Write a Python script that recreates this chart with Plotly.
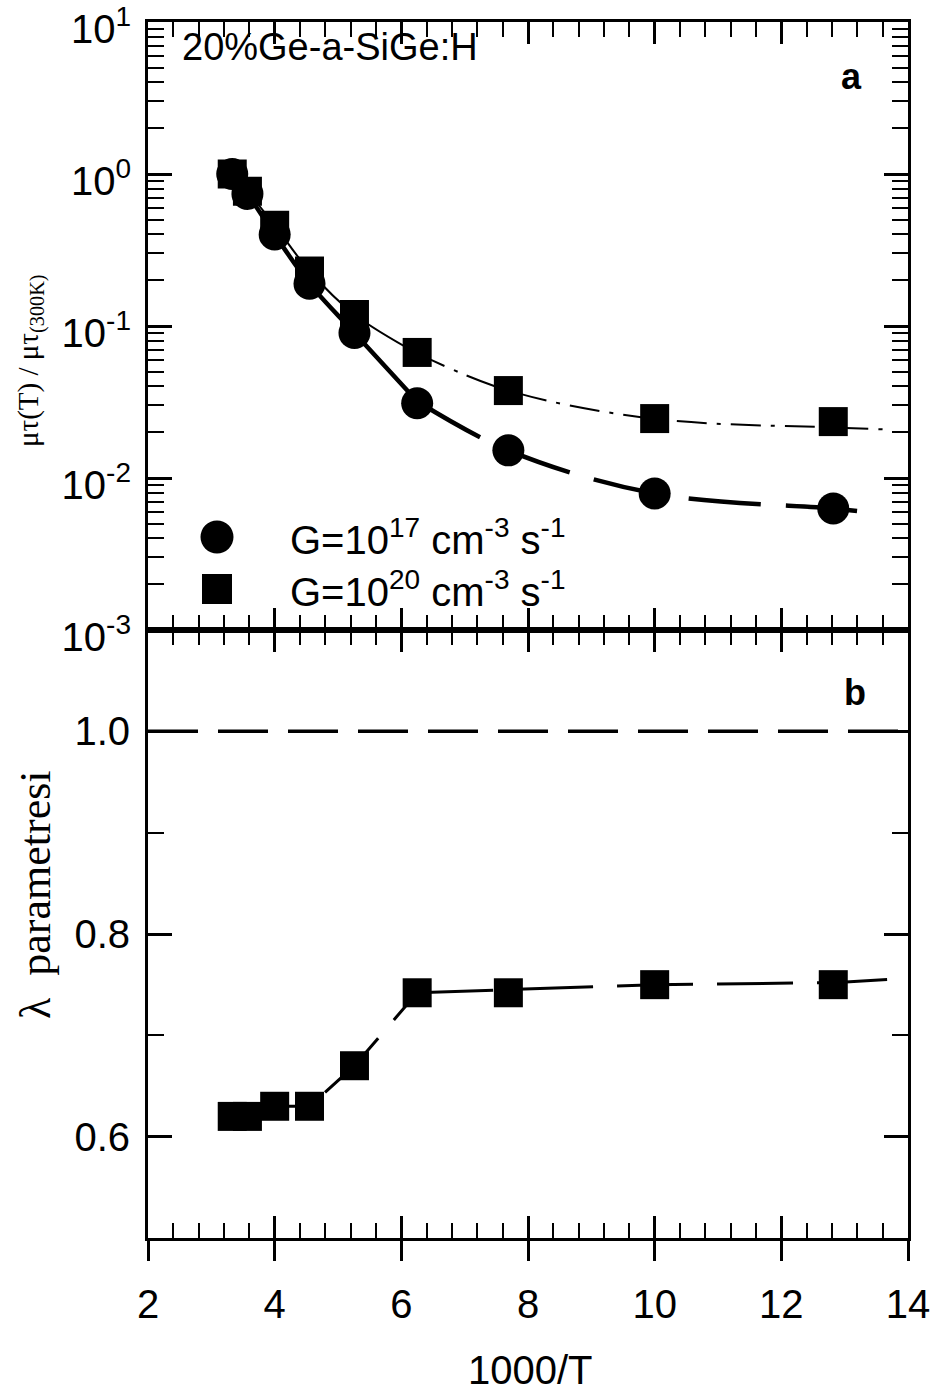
import plotly.graph_objects as go

# ---------------- data ----------------
inv_T = [3.33, 3.57, 4.0, 4.55, 5.26, 6.25, 7.69, 10.0, 12.82]          # 1000/T
mt_G17 = [1.0, 0.74, 0.40, 0.19, 0.090, 0.031, 0.0152, 0.0079, 0.0063]   # circles
mt_G20 = [1.0, 0.77, 0.46, 0.23, 0.119, 0.067, 0.0376, 0.0246, 0.0235]   # squares
lam_G20 = [0.62, 0.62, 0.63, 0.63, 0.67, 0.742, 0.742, 0.75, 0.75]     # lambda

# fitted curves
fit17_x = [3.33, 3.57, 4.0, 4.55, 5.26, 6.25, 7.69, 10.0, 12.82, 13.3]
fit17_y = [1.0, 0.74, 0.40, 0.19, 0.090, 0.032, 0.0152, 0.0079, 0.0063, 0.0060]
fit20_x = [3.33, 3.57, 4.0, 4.55, 5.26, 6.25, 7.69, 10.0, 12.82, 13.62]
fit20_y = [1.0, 0.77, 0.46, 0.23, 0.119, 0.066, 0.0376, 0.0245, 0.0215, 0.0209]
lamfit_x = [3.33, 3.57, 4.0, 4.55, 5.26, 6.25, 7.69, 10.0, 12.82, 13.67]
lamfit_y = [0.62, 0.62, 0.63, 0.63, 0.67, 0.742, 0.745, 0.75, 0.752, 0.755]
ref_x = [2, 14]
ref_y = [1.0, 1.0]

x_ticks = [2, 4, 6, 8, 10, 12, 14]
y1_ticks = [1e-3, 1e-2, 1e-1, 1, 10]
y1_labels = ["10<sup>-3</sup>", "10<sup>-2</sup>", "10<sup>-1</sup>", "10<sup>0</sup>", "10<sup>1</sup>"]
y2_ticks = [0.6, 0.8, 1.0]
y2_labels = ["0.6", "0.8", "1.0"]

legend_17 = "G=10<sup>17</sup> cm<sup>-3</sup> s<sup>-1</sup>"
legend_20 = "G=10<sup>20</sup> cm<sup>-3</sup> s<sup>-1</sup>"

FONT = "Liberation Sans, Arial, sans-serif"
SERIF = "Liberation Serif, Times New Roman, serif"

fig = go.Figure()

def part(xs, ys, lo, hi):
    px_, py_ = [], []
    for a, b in zip(xs, ys):
        if lo <= a <= hi:
            px_.append(a); py_.append(b)
    return px_, py_

# --- panel a: fit curves
sx, sy = part(fit17_x, fit17_y, 0, 6.25)
fig.add_trace(go.Scatter(x=sx, y=sy, mode="lines", line=dict(color="black", width=4.5, shape="spline"),
                         xaxis="x", yaxis="y", showlegend=False, hoverinfo="skip"))
sx, sy = part(fit17_x, fit17_y, 6.25, 99)
fig.add_trace(go.Scatter(x=sx, y=sy, mode="lines", line=dict(color="black", width=4.5, shape="spline", dash="72px,25px"),
                         xaxis="x", yaxis="y", showlegend=False, hoverinfo="skip"))
sx, sy = part(fit20_x, fit20_y, 0, 6.25)
fig.add_trace(go.Scatter(x=sx, y=sy, mode="lines", line=dict(color="black", width=2, shape="spline"),
                         xaxis="x", yaxis="y", showlegend=False, hoverinfo="skip"))
sx, sy = part(fit20_x, fit20_y, 6.25, 99)
fig.add_trace(go.Scatter(x=sx, y=sy, mode="lines", line=dict(color="black", width=2, shape="spline", dash="30px,10px,4px,10px"),
                         xaxis="x", yaxis="y", showlegend=False, hoverinfo="skip"))

# --- panel a: markers
fig.add_trace(go.Scatter(x=inv_T, y=mt_G20, mode="markers", marker=dict(symbol="square", size=29, color="black"),
                         xaxis="x", yaxis="y", showlegend=False, name=legend_20))
fig.add_trace(go.Scatter(x=inv_T, y=mt_G17, mode="markers", marker=dict(symbol="circle", size=32, color="black"),
                         xaxis="x", yaxis="y", showlegend=False, name=legend_17))

# --- panel b
fig.add_trace(go.Scatter(x=ref_x, y=ref_y, mode="lines", line=dict(color="black", width=3.5, dash="50px,20px"),
                         xaxis="x2", yaxis="y2", showlegend=False, hoverinfo="skip"))
sx, sy = part(lamfit_x, lamfit_y, 0, 6.25)
fig.add_trace(go.Scatter(x=sx, y=sy, mode="lines", line=dict(color="black", width=3, dash="76px,24px"),
                         xaxis="x2", yaxis="y2", showlegend=False, hoverinfo="skip"))
sx, sy = part(lamfit_x, lamfit_y, 6.25, 99)
fig.add_trace(go.Scatter(x=sx, y=sy, mode="lines", line=dict(color="black", width=3, dash="76px,24px"),
                         xaxis="x2", yaxis="y2", showlegend=False, hoverinfo="skip"))
fig.add_trace(go.Scatter(x=inv_T, y=lam_G20, mode="markers", marker=dict(symbol="square", size=29, color="black"),
                         xaxis="x2", yaxis="y2", showlegend=False))
# carrier for the outer bottom axis
fig.add_trace(go.Scatter(x=[None], y=[None], xaxis="x3", yaxis="y2", showlegend=False, hoverinfo="skip"))

minor_x = dict(ticks="inside", ticklen=15, tickwidth=2, tickcolor="black", dtick=0.4, tick0=2)
minor_y1_vals = [m * 10 ** e for e in range(-3, 1) for m in range(2, 10)]

common_x = dict(range=[2, 14], tickmode="array", tickvals=x_ticks, showgrid=False, zeroline=False,
                showline=True, linewidth=3, linecolor="black", ticks="inside", ticklen=22,
                tickwidth=3, tickcolor="black", mirror="ticks", showticklabels=False, automargin=False)

fig.update_layout(
    width=937, height=1396,
    margin=dict(l=148, r=29, t=22, b=158, autoexpand=False),
    paper_bgcolor="white", plot_bgcolor="white",
    showlegend=False,
    xaxis=dict(**common_x, anchor="y", minor=minor_x),
    xaxis2=dict(**common_x, anchor="y2", minor=minor_x),
    xaxis3=dict(range=[2, 14], tickmode="array", tickvals=x_ticks, ticktext=[str(v) for v in x_ticks],
                overlaying="x2", anchor="y2", side="bottom", showgrid=False, zeroline=False, showline=False,
                ticks="outside", ticklen=22, tickwidth=3, tickcolor="black", ticklabelstandoff=9,
                ticklabeloverflow="allow", automargin=False,
                tickfont=dict(family=FONT, size=40, color="black")),
    yaxis=dict(type="log", range=[-3, 1], domain=[0.5, 1], anchor="x", tickmode="array",
               tickvals=y1_ticks, ticktext=y1_labels, showgrid=False, zeroline=False,
               showline=True, linewidth=3, linecolor="black", ticks="inside", ticklen=24,
               tickwidth=3, tickcolor="black", mirror="ticks", ticklabelstandoff=6,
               ticklabelshift=7, ticklabeloverflow="allow", automargin=False,
               tickfont=dict(family=FONT, size=40, color="black"),
               minor=dict(ticks="inside", ticklen=16, tickwidth=2, tickcolor="black", tickmode="array",
                          tickvals=minor_y1_vals)),
    yaxis2=dict(range=[0.5, 1.1], domain=[0, 0.5], anchor="x2", tickmode="array",
                tickvals=y2_ticks, ticktext=y2_labels, showgrid=False, zeroline=False,
                showline=True, linewidth=3, linecolor="black", ticks="inside", ticklen=24,
                tickwidth=3, tickcolor="black", mirror="ticks", ticklabelstandoff=7,
                ticklabeloverflow="allow", automargin=False,
                tickfont=dict(family=FONT, size=40, color="black"),
                minor=dict(ticks="inside", ticklen=16, tickwidth=2, tickcolor="black", dtick=0.1, tick0=0.5)),
)

def px_x(p):
    return (p - 148) / 760.0

def px_y(p):
    return (1238 - p) / 1216.0

annos = [
    dict(text="20%Ge-a-SiGe:H", x=px_x(180), y=px_y(47), xanchor="left", yanchor="middle",
         font=dict(family=FONT, size=38, color="black")),
    dict(text="<b>a</b>", x=px_x(851), y=px_y(76), xanchor="center", yanchor="middle",
         font=dict(family=FONT, size=36, color="black")),
    dict(text="<b>b</b>", x=px_x(855), y=px_y(692), xanchor="center", yanchor="middle",
         font=dict(family=FONT, size=36, color="black")),
    dict(text=legend_17, x=px_x(288), y=px_y(537), xanchor="left", yanchor="middle",
         font=dict(family=FONT, size=40, color="black")),
    dict(text=legend_20, x=px_x(288), y=px_y(589), xanchor="left", yanchor="middle",
         font=dict(family=FONT, size=40, color="black")),
    dict(text="1000/T", x=px_x(530), y=px_y(1370), xanchor="center", yanchor="middle",
         font=dict(family=FONT, size=40, color="black")),
    dict(text="μτ(T) / μτ<sub>(300K)</sub>", x=px_x(30), y=px_y(360), xanchor="center", yanchor="middle",
         textangle=-90, font=dict(family=SERIF, size=29, color="black")),
    dict(text="λ  parametresi", x=px_x(35), y=px_y(895), xanchor="center", yanchor="middle",
         textangle=-90, font=dict(family=SERIF, size=44, color="black")),
]
for a in annos:
    a.update(xref="paper", yref="paper", showarrow=False)
fig.update_layout(annotations=annos)

# legend keys
fig.add_shape(type="circle", xref="paper", yref="paper", xsizemode="pixel", ysizemode="pixel",
              xanchor=px_x(217), yanchor=px_y(537), x0=-16.5, x1=16.5, y0=-16.5, y1=16.5,
              fillcolor="black", line=dict(width=0))
fig.add_shape(type="rect", xref="paper", yref="paper", xsizemode="pixel", ysizemode="pixel",
              xanchor=px_x(217), yanchor=px_y(589), x0=-15, x1=15, y0=-15, y1=15,
              fillcolor="black", line=dict(width=0))

fig.write_html("out.html")
